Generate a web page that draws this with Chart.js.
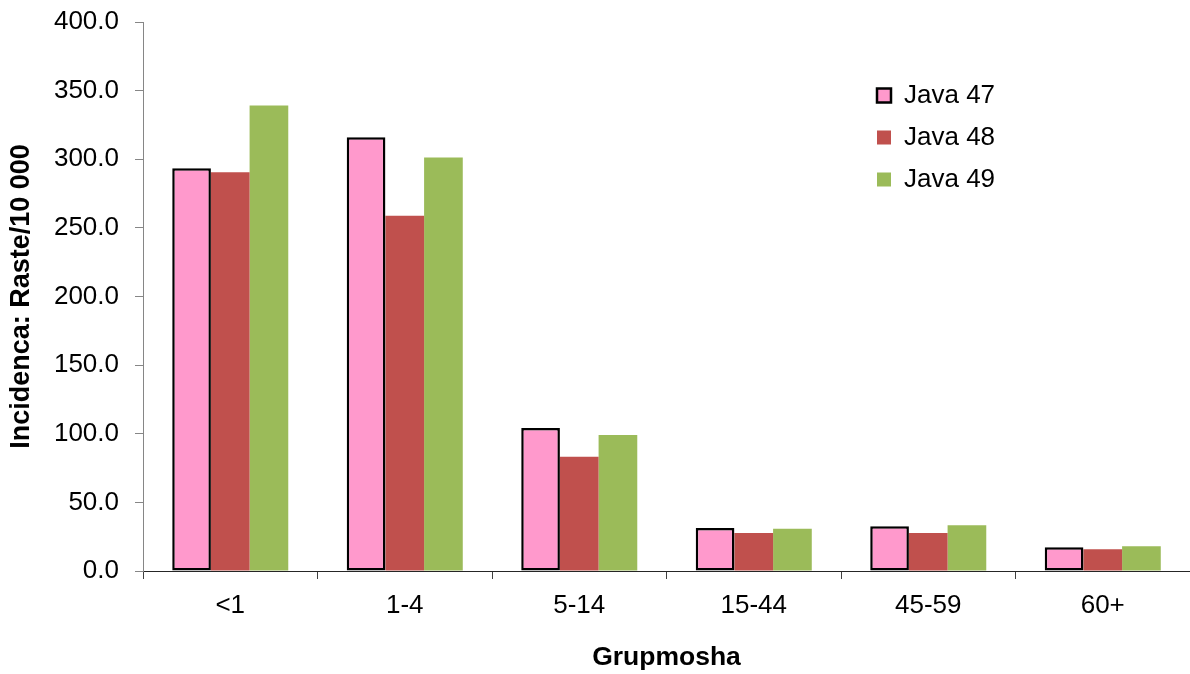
<!DOCTYPE html>
<html>
<head>
<meta charset="utf-8">
<script src="https://cdn.jsdelivr.net/npm/chart.js@4.4.1/dist/chart.umd.min.js"></script>
<style>
  html, body { margin: 0; padding: 0; background: #ffffff; }
  #wrap { width: 1190px; height: 674px; position: relative; }
</style>
</head>
<body>
<div id="wrap"><canvas id="chart"></canvas></div>
<script>
// Age groups and incidence per 10 000 for three weeks
const ageGroups = ['<1', '1-4', '5-14', '15-44', '45-59', '60+'];
const java47 = [293.5, 316.1, 104.2, 31.3, 32.6, 17.3];
const java48 = [290.6, 258.8, 83.3, 27.7, 27.7, 15.8];
const java49 = [339.1, 301.2, 99.1, 30.8, 33.3, 18.0];
const seriesNames = ['Java 47', 'Java 48', 'Java 49'];
const yTicks = [0, 50, 100, 150, 200, 250, 300, 350, 400];

const FONT = "'Liberation Sans', Arial, Helvetica, sans-serif";

// Places the legend block inside the plot, top right
const legendPlacer = {
  id: 'legendPlacer',
  afterLayout(chart) {
    const lg = chart.legend;
    if (!lg) return;
    const area = chart.chartArea;
    lg.left = area.right - 329;
    lg.top = area.top + 44.5;
    lg.right = area.right;
    lg.bottom = lg.top + 220;
    lg.width = lg.right - lg.left;
    lg.height = lg.bottom - lg.top;
  }
};

new Chart(document.getElementById('chart'), {
  type: 'bar',
  data: {
    labels: ageGroups,
    datasets: [
      { label: seriesNames[0], data: java47, backgroundColor: '#FF99CC', borderColor: '#000000', borderWidth: 2.5, borderSkipped: false },
      { label: seriesNames[1], data: java48, backgroundColor: '#C0504D', borderWidth: 0 },
      { label: seriesNames[2], data: java49, backgroundColor: '#9BBB59', borderWidth: 0 }
    ]
  },
  options: {
    responsive: true,
    maintainAspectRatio: false,
    animation: false,
    devicePixelRatio: 1,
    layout: { padding: { top: 22, right: 0, bottom: 0, left: 0 } },
    datasets: { bar: { categoryPercentage: 0.665, barPercentage: 1.0 } },
    plugins: {
      tooltip: { enabled: false },
      legend: {
        position: 'chartArea',
        align: 'start',
        labels: {
          boxWidth: 14,
          boxHeight: 14,
          padding: 16,
          color: '#000000',
          font: { family: FONT, size: 26 }
        }
      }
    },
    scales: {
      x: {
        grid: { display: true, drawOnChartArea: false, offset: true, tickLength: 8, color: '#404040', lineWidth: 1 },
        border: { display: true, color: '#262626', width: 1 },
        ticks: { color: '#000000', padding: 11, maxRotation: 0, font: { family: FONT, size: 26 } },
        title: { display: true, text: 'Grupmosha', color: '#000000', padding: { top: 0, bottom: 0 }, font: { family: FONT, size: 26.5, weight: 'bold' } },
        afterFit(scale) { scale.height = 103; scale.paddingLeft = 0; scale.paddingRight = 0; }
      },
      y: {
        min: 0,
        max: 400,
        afterBuildTicks(scale) { scale.ticks = yTicks.map(v => ({ value: v })); },
        grid: { display: true, drawOnChartArea: false, tickLength: 8, color: '#868686', lineWidth: 1 },
        border: { display: true, color: '#868686', width: 1 },
        ticks: { color: '#000000', padding: 16, callback: v => Number(v).toFixed(1), font: { family: FONT, size: 26 } },
        title: { display: true, text: 'Incidenca: Raste/10 000', color: '#000000', padding: { top: 5, bottom: 0 }, font: { family: FONT, size: 27, weight: 'bold' } },
        afterFit(scale) { scale.width = 143; scale.paddingTop = 0; scale.paddingBottom = 0; }
      }
    }
  },
  plugins: [legendPlacer]
});
</script>
</body>
</html>
